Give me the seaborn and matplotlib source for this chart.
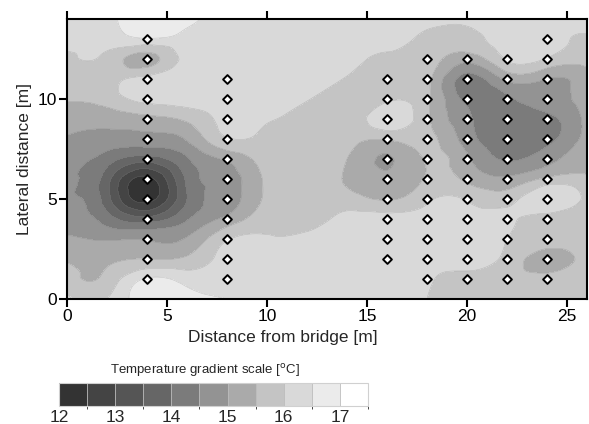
import numpy as np
import matplotlib
matplotlib.use("Agg")
import matplotlib.pyplot as plt
import matplotlib.tri as mtri
from matplotlib.colors import ListedColormap, BoundaryNorm
import matplotlib.cm as cm
import seaborn as sns

# temperature, one list per 2 m column, y = 0..14 m
grid_x = [0, 2, 4, 6, 8, 10, 12, 14, 16, 18, 20, 22, 24, 26]
grid_y = list(range(0, 15))
temp_x0 = [16.1, 15.7, 15.45, 15.05, 14.75, 14.55, 14.55, 14.7, 14.95, 15.25, 15.55, 15.75, 15.9, 16.2, 16.3]
temp_x2 = [16.0, 15.65, 15.4, 14.95, 14.25, 13.7, 13.7, 14.25, 14.8, 15.2, 15.7, 15.8, 15.85, 16.2, 16.35]
temp_x4 = [16.8, 16.55, 15.5, 14.95, 13.7, 12.3, 12.35, 13.75, 14.8, 15.35, 16.2, 16.2, 15.3, 16.45, 16.9]
temp_x6 = [16.7, 16.3, 15.6, 15.05, 14.45, 14.0, 14.1, 14.45, 15.05, 15.6, 16.2, 16.2, 16.2, 16.35, 16.6]
temp_x8 = [16.5, 16.3, 16.2, 15.95, 15.15, 14.75, 14.75, 15.1, 15.95, 16.15, 16.25, 16.3, 16.3, 16.35, 16.4]
temp_x10 = [16.35, 16.3, 16.25, 16.05, 15.8, 15.6, 15.6, 15.7, 15.85, 16.05, 16.2, 16.25, 16.3, 16.3, 16.3]
temp_x12 = [16.35, 16.3, 16.25, 16.1, 15.85, 15.75, 15.7, 15.7, 15.75, 15.85, 16.02, 16.2, 16.25, 16.3, 16.3]
temp_x14 = [16.3, 16.3, 16.3, 16.2, 16.15, 15.7, 15.45, 15.5, 15.65, 15.7, 15.75, 15.95, 16.2, 16.25, 16.3]
temp_x16 = [16.35, 16.35, 16.35, 16.3, 16.2, 15.45, 15.1, 14.95, 15.55, 16.3, 15.9, 15.8, 15.9, 16.2, 16.3]
temp_x18 = [16.0, 16.05, 16.1, 16.2, 16.15, 15.9, 15.55, 15.55, 15.65, 15.6, 15.6, 15.65, 15.8, 15.85, 16.3]
temp_x20 = [15.75, 15.9, 16.15, 16.25, 16.2, 15.95, 15.4, 15.1, 14.75, 14.6, 14.35, 14.3, 15.2, 15.8, 16.1]
temp_x22 = [15.7, 15.7, 15.85, 16.0, 16.1, 15.8, 15.1, 14.45, 14.2, 14.2, 14.4, 15.1, 16.05, 16.25, 16.3]
temp_x24 = [15.75, 15.7, 15.25, 15.75, 15.8, 16.45, 15.6, 14.8, 14.35, 14.35, 14.75, 15.0, 15.95, 16.2, 16.3]
temp_x26 = [15.8, 15.8, 15.8, 15.8, 15.8, 15.8, 15.6, 15.35, 15.2, 15.15, 15.2, 15.35, 15.65, 15.95, 16.3]

# measurement lines: x position and lowest / highest point
survey_x = [4, 8, 16, 18, 20, 22, 24]
survey_ymin = [1, 1, 2, 1, 1, 1, 1]
survey_ymax = [13, 11, 11, 12, 12, 12, 13]

levels = [12, 12.5, 13, 13.5, 14, 14.5, 15, 15.5, 16, 16.5, 17, 17.5]
grays = ['#333333', '#444444', '#555555', '#666666', '#7b7b7b', '#939393',
         '#aaaaaa', '#c4c4c4', '#d9d9d9', '#ebebeb', '#ffffff']
cbar_ticks = [12, 13, 14, 15, 16, 17]

sns.set_style("ticks")
plt.rcParams['font.family'] = ['Liberation Sans', 'DejaVu Sans']

columns = [temp_x0, temp_x2, temp_x4, temp_x6, temp_x8, temp_x10, temp_x12,
           temp_x14, temp_x16, temp_x18, temp_x20, temp_x22, temp_x24, temp_x26]
Z = np.array(columns).T   # rows = y, cols = x
nx, ny = len(grid_x), len(grid_y)

# regular triangulation in index space (square cells), refined + smoothed
I, J = np.meshgrid(np.arange(nx), np.arange(ny))
tris = []
for j in range(ny - 1):
    for i in range(nx - 1):
        a = j * nx + i
        b, c, d = a + 1, a + nx, a + nx + 1
        tris.append([a, b, d])
        tris.append([a, d, c])
tri = mtri.Triangulation(I.ravel().astype(float), J.ravel().astype(float), np.array(tris))
interp = mtri.CubicTriInterpolator(tri, Z.ravel(), kind='min_E')
refiner = mtri.UniformTriRefiner(tri)
tri_i, z_f = refiner.refine_field(Z.ravel(), triinterpolator=interp, subdiv=5)
tri_f = mtri.Triangulation(np.interp(tri_i.x, np.arange(nx), grid_x),
                           np.interp(tri_i.y, np.arange(ny), grid_y),
                           tri_i.triangles)

cmap = ListedColormap(grays)
cmap.set_under(grays[0])
cmap.set_over(grays[-1])
norm = BoundaryNorm(levels, cmap.N)

fig = plt.figure(figsize=(5.89, 4.24), dpi=100)
ax = fig.add_axes([0.1138, 0.2948, 0.8829, 0.6604])

ax.tricontourf(tri_f, z_f, levels=levels, cmap=cmap, norm=norm, extend='both')
ax.tricontour(tri_f, z_f, levels=levels, colors='#7a7a7a', linewidths=0.4, alpha=0.35)

pts_x, pts_y = [], []
for sx, y0, y1 in zip(survey_x, survey_ymin, survey_ymax):
    for yy in range(y0, y1 + 1):
        pts_x.append(sx)
        pts_y.append(yy)
sns.scatterplot(x=pts_x, y=pts_y, ax=ax, marker='D', s=20, color='white',
                edgecolor='black', linewidth=1.4, zorder=5, legend=False)

ax.set_xlim(0, 26)
ax.set_ylim(0, 14)
ax.set_xticks([0, 5, 10, 15, 20, 25])
ax.set_yticks([0, 5, 10])
ax.tick_params(direction='out', length=6, width=1.5, top=True, labeltop=False,
               right=False, labelsize=12.5, pad=1, colors='black')
for sp in ax.spines.values():
    sp.set_linewidth(1.5)
    sp.set_color('black')
ax.set_xlabel('Distance from bridge [m]', fontsize=12.5)
ax.xaxis.set_label_coords(0.415, -0.112)
ax.set_ylabel('Lateral distance [m]', fontsize=12.5, labelpad=4)

# scale bar at the bottom
cax = fig.add_axes([0.1002, 0.0425, 0.5246, 0.054])
sm = cm.ScalarMappable(cmap=ListedColormap(grays), norm=BoundaryNorm(levels, len(grays)))
cb = fig.colorbar(sm, cax=cax, orientation='horizontal', ticks=cbar_ticks,
                  drawedges=True)
cb.outline.set_edgecolor('#d0d0d0')
cb.outline.set_linewidth(0.8)
cb.dividers.set_color('#bbbbbb')
cb.dividers.set_linewidth(0.6)
cax.tick_params(length=0, labelsize=12.5, pad=3)
fig.text(0.348, 0.127, 'Temperature gradient scale [$^{\\rm o}$C]', fontsize=9.5,
         ha='center', va='center')

fig.savefig('out.png', dpi=100)
